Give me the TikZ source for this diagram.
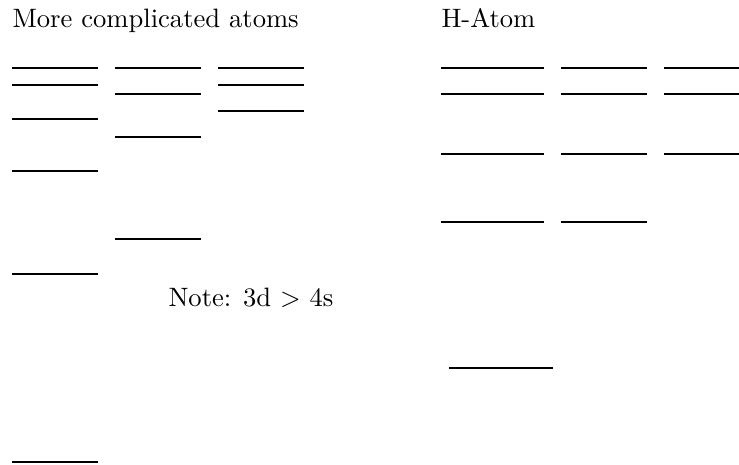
\documentclass[tikz,border=0pt]{standalone}
\usepackage{amsmath}
\usepackage{tikz}

\begin{document}
\begin{tikzpicture}[x=0.3759pt, y=-0.3759pt,
    lvl/.style={draw=black, line width=0.4pt},
    lbl/.style={anchor=base west, inner sep=0pt}]
\useasboundingbox (0,0) rectangle (739,464);

% Headings
\node[lbl] (multi) at (12,27) {More complicated atoms};
\node[lbl] (hatom) at (441,27) {H-Atom};

% Levels of more complicated atoms (s, p, d columns)
\foreach \y in {68, 85, 119, 171, 274, 462} {
    \draw[lvl] (12,\y) -- ++(86,0);
}
\foreach \y in {68, 94, 137, 239} {
    \draw[lvl] (115,\y) -- ++(86,0);
}
\foreach \y in {68, 85, 111} {
    \draw[lvl] (218,\y) -- ++(86,0);
}

% Remark on ordering
\node[lbl] (note) at (168,306) {Note: 3d $>$ 4s};

% H-Atom levels (degenerate in l)
\foreach \y in {68, 94, 154, 222} {
    \draw[lvl] (441,\y) -- ++(103,0);
    \draw[lvl] (561,\y) -- ++(86,0);
}
\foreach \y in {68, 94, 154} {
    \draw[lvl] (664,\y) -- ++(86,0);
}
\draw[lvl] (449,368) -- ++(104,0);

\end{tikzpicture}
\end{document}
